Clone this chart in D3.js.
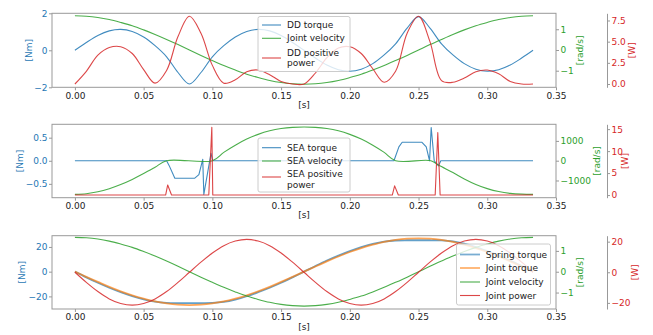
<!DOCTYPE html>
<html lang="en">
<head>
<meta charset="utf-8"/>
<script src="https://d3js.org/d3.v7.min.js"></script>
<title>DD / SEA joint traces</title>
<style>
  body { margin: 0; background: #fff; }
  svg text { font-family: "DejaVu Sans", sans-serif; font-size: 9px; }
</style>
</head>
<body>
<div id="joint_chart_div"><svg id="joint_chart"></svg></div>

<script>
const width = 653;
const height = 335;

// common time grid of the smooth traces [s]
const time = [0, 0.0083, 0.0167, 0.025, 0.0333, 0.0417, 0.05, 0.0583, 0.0667, 0.075,
  0.0833, 0.0917, 0.1, 0.1083, 0.1167, 0.125, 0.1333, 0.1417, 0.15, 0.1583,
  0.1667, 0.175, 0.1833, 0.1917, 0.2, 0.2083, 0.2167, 0.225, 0.2333, 0.2417,
  0.25, 0.2583, 0.2667, 0.275, 0.2833, 0.2917, 0.3, 0.3083, 0.3167, 0.325, 0.3333];

// panel 1 : direct drive
const ddTorque = [0, 0.42, 0.8, 1.05, 1.13, 1.02, 0.72, 0.25, -0.35, -1.2,
  -1.82, -1.2, -0.35, 0.25, 0.72, 1.02, 1.13, 1.05, 0.8, 0.42,
  0, -0.42, -0.8, -1.05, -1.13, -1.02, -0.72, -0.25, 0.35, 1.2,
  1.82, 1.2, 0.35, -0.25, -0.72, -1.02, -1.13, -1.05, -0.8, -0.42, 0];
const jointVelocity = [1.65, 1.63, 1.57, 1.47, 1.33, 1.17, 0.97, 0.75, 0.51, 0.26,
  0, -0.26, -0.51, -0.75, -0.97, -1.17, -1.33, -1.47, -1.57, -1.63,
  -1.65, -1.63, -1.57, -1.47, -1.33, -1.17, -0.97, -0.75, -0.51, -0.26,
  0, 0.26, 0.51, 0.75, 0.97, 1.17, 1.33, 1.47, 1.57, 1.63, 1.65];
const ddPower = [0, 1.5, 3.4, 4.3, 4.4, 3.6, 1.7, 0.1, 1.6, 5.6,
  8.0, 6.0, 2.2, 0.1, 0.5, 1.45, 1.65, 1.1, 0.3, 0,
  0, 1.3, 3.1, 4.25, 4.4, 3.6, 1.8, 0.2, 1.5, 6.0,
  8.0, 5.0, 0.4, 0.2, 0.7, 1.45, 1.65, 1.2, 0.3, 0, 0];

// panel 2 : series elastic actuator (own time stamps, spiky)
const seaTorqueT = [0, 0.0667, 0.0685, 0.0727, 0.087, 0.0902, 0.093, 0.0938, 0.099, 0.1003,
  0.2321, 0.2357, 0.2381, 0.2525, 0.2556, 0.258, 0.2592, 0.2614, 0.2645, 0.2662, 0.3333];
const seaTorque = [0, 0, -0.1, -0.38, -0.38, -0.3, 0.03, -0.73, 0.16, 0,
  0, 0.3, 0.4, 0.4, 0.3, 0, 0.72, 0, -0.11, 0, 0];
const seaVelocityT = [0, 0.0083, 0.0167, 0.025, 0.0333, 0.0417, 0.05, 0.0583, 0.0667, 0.1,
  0.1083, 0.1167, 0.125, 0.1333, 0.1417, 0.15, 0.1583, 0.1667, 0.175, 0.1833,
  0.1917, 0.2, 0.2083, 0.2167, 0.225, 0.2333, 0.259, 0.2645, 0.275, 0.2833,
  0.2917, 0.3, 0.3083, 0.3167, 0.325, 0.3333];
const seaVelocity = [-1700, -1667, -1571, -1413, -1202, -944, -651, -332, 0, 0,
  420, 780, 1090, 1330, 1510, 1625, 1685, 1700, 1685, 1625,
  1510, 1330, 1090, 780, 420, 0, 0, -220, -600, -920,
  -1200, -1410, -1560, -1650, -1690, -1700];
const seaPowerT = [0, 0.066, 0.0675, 0.0703, 0.0974, 0.0996, 0.1003,
  0.2309, 0.2326, 0.2353, 0.2621, 0.264, 0.2657, 0.3333];
const seaPower = [0, 0, 2.3, 0, 0, 15.4, 0,
  0, 2.1, 0, 0, 14.2, 0, 0];

// panel 3 : spring / joint
const springTorque = [0, -4.6, -9.0, -13.0, -16.6, -19.8, -22.4, -24.3, -25.2, -25.4,
  -25.4, -25.4, -25.3, -24.5, -22.6, -19.9, -16.6, -13.0, -9.0, -4.6,
  0, 4.6, 9.0, 13.0, 16.6, 19.8, 22.4, 24.3, 25.2, 25.4,
  25.4, 25.4, 25.3, 24.5, 22.6, 19.9, 16.6, 13.0, 9.0, 4.6, 0];
const jointTorque = [0, -4.2, -8.3, -12.3, -15.9, -19.1, -21.8, -24.1, -25.7, -26.7,
  -27, -26.7, -25.7, -24.1, -21.8, -19.1, -15.9, -12.3, -8.3, -4.2,
  0, 4.2, 8.3, 12.3, 15.9, 19.1, 21.8, 24.1, 25.7, 26.7,
  27, 26.7, 25.7, 24.1, 21.8, 19.1, 15.9, 12.3, 8.3, 4.2, 0];
const jointPower = [0, -6.6, -12.6, -17.4, -20.4, -21.5, -20.4, -17.4, -12.6, -6.6,
  0, 6.6, 12.6, 17.4, 20.4, 21.5, 20.4, 17.4, 12.6, 6.6,
  0, -6.6, -12.6, -17.4, -20.4, -21.5, -20.4, -17.4, -12.6, -6.6,
  0, 6.6, 12.6, 17.4, 20.4, 21.5, 20.4, 17.4, 12.6, 6.6, 0];

const xTicks = [0, 0.05, 0.1, 0.15, 0.2, 0.25, 0.3, 0.35];

const c = {blue: "#1f77b4", orange: "#ff7f0e", green: "#2ca02c", red: "#d62728"};

const svg = d3.select("#joint_chart")
  .attr("width", width)
  .attr("height", height);

const plotLeft = 52, plotRight = 556, powerSpine = 607;

const xScale = d3.scaleLinear()
  .domain([-0.01667, 0.35])
  .range([plotLeft, plotRight]);

const zip = (ts, vs) => ts.map((t, i) => ({t: t, v: vs[i]}));

const panels = [
  {
    top: 13.3, bottom: 87.3,
    left: {dom: [-2, 2], ticks: [-2, 0, 2], fmt: "d", labelX: 29},
    vel: {dom: [-1.80, 1.77], ticks: [-1, 0, 1], fmt: "d", labelX: 580},
    pow: {dom: [-0.39, 8.35], ticks: [0, 2.5, 5, 7.5], fmt: ".1f", labelX: 632},
    series: [
      {data: zip(time, ddTorque), axis: "left", color: c.blue, smooth: true},
      {data: zip(time, jointVelocity), axis: "vel", color: c.green, smooth: true},
      {data: zip(time, ddPower), axis: "pow", color: c.red, smooth: true}
    ],
    legend: {x: 258, y: 16.5, w: 92, h: 55, hx: [262, 281], tx: 287, rows: [
      {lines: ["DD torque"], y: [25], hy: 25, color: c.blue},
      {lines: ["Joint velocity"], y: [38.3], hy: 38.3, color: c.green},
      {lines: ["DD positive", "power"], y: [52.5, 63], hy: 58, color: c.red}
    ]}
  },
  {
    top: 124.3, bottom: 197.7,
    left: {dom: [-0.80, 0.79], ticks: [-0.5, 0, 0.5], fmt: ".1f", labelX: 20},
    vel: {dom: [-1869, 1838], ticks: [-1000, 0, 1000], fmt: "d", labelX: 597},
    pow: {dom: [-0.6, 16.1], ticks: [0, 5, 10, 15], fmt: "d", labelX: 625},
    series: [
      {data: zip(seaTorqueT, seaTorque), axis: "left", color: c.blue, smooth: false},
      {data: zip(seaVelocityT, seaVelocity), axis: "vel", color: c.green, smooth: true},
      {data: zip(seaPowerT, seaPower), axis: "pow", color: c.red, smooth: false}
    ],
    legend: {x: 258, y: 138, w: 92, h: 54, hx: [262, 281], tx: 287, rows: [
      {lines: ["SEA torque"], y: [147.7], hy: 147.7, color: c.blue},
      {lines: ["SEA velocity"], y: [161], hy: 161, color: c.green},
      {lines: ["SEA positive", "power"], y: [174.3, 185], hy: 177, color: c.red}
    ]}
  },
  {
    top: 235.7, bottom: 309,
    left: {dom: [-30.2, 29.1], ticks: [-20, 0, 20], fmt: "d", labelX: 22},
    vel: {dom: [-1.79, 1.73], ticks: [-1, 0, 1], fmt: "d", labelX: 580},
    pow: {dom: [-24, 23.9], ticks: [-20, 0, 20], fmt: "d", labelX: 635},
    series: [
      {data: zip(time, springTorque), axis: "left", color: c.blue, smooth: true, w: 1.8, op: 0.7},
      {data: zip(time, jointTorque), axis: "left", color: c.orange, smooth: true, w: 1.8, op: 0.7},
      {data: zip(time, jointVelocity), axis: "vel", color: c.green, smooth: true},
      {data: zip(time, jointPower), axis: "pow", color: c.red, smooth: true}
    ],
    legend: {x: 456.5, y: 244, w: 94, h: 61, hx: [460, 480], tx: 485.7, rows: [
      {lines: ["Spring torque"], y: [254.5], hy: 254.5, color: c.blue, w: 1.8, op: 0.6},
      {lines: ["Joint torque"], y: [268], hy: 268, color: c.orange, w: 1.8, op: 0.6},
      {lines: ["Joint velocity"], y: [282], hy: 282, color: c.green},
      {lines: ["Joint power"], y: [295.5], hy: 295.5, color: c.red}
    ]}
  }
];

const styleAxis = (g, color) => {
  g.selectAll(".domain").attr("stroke", "#999");
  g.selectAll(".tick line").attr("stroke", "#999");
  g.selectAll(".tick text").attr("fill", color).style("font-size", "9px")
    .style("font-family", "DejaVu Sans, sans-serif");
};

panels.forEach((p) => {
  const g = svg.append("g");
  const mid = (p.top + p.bottom) / 2;

  const y = {
    left: d3.scaleLinear().domain(p.left.dom).range([p.bottom, p.top]),
    vel: d3.scaleLinear().domain(p.vel.dom).range([p.bottom, p.top]),
    pow: d3.scaleLinear().domain(p.pow.dom).range([p.bottom, p.top])
  };

  // lines
  p.series.forEach((s) => {
    const line = d3.line()
      .x((d) => xScale(d.t))
      .y((d) => y[s.axis](d.v))
      .curve(s.smooth ? d3.curveCatmullRom.alpha(0.5) : d3.curveLinear);
    g.append("path")
      .datum(s.data)
      .attr("fill", "none")
      .attr("stroke", s.color)
      .attr("stroke-width", s.w || 1.1)
      .attr("stroke-opacity", s.op || 0.85)
      .attr("stroke-linejoin", "round")
      .attr("d", line);
  });

  // frame
  g.append("rect")
    .attr("x", plotLeft).attr("y", p.top)
    .attr("width", plotRight - plotLeft).attr("height", p.bottom - p.top)
    .attr("fill", "none").attr("stroke", "#999").attr("stroke-width", 1);

  // x axis
  g.append("g")
    .attr("transform", "translate(0," + p.bottom + ")")
    .call(d3.axisBottom(xScale).tickValues(xTicks).tickFormat(d3.format(".2f"))
      .tickSize(3).tickSizeOuter(0).tickPadding(2))
    .call((a) => { a.select(".domain").remove(); styleAxis(a, "#222"); });

  g.append("text")
    .attr("x", (plotLeft + plotRight) / 2).attr("y", p.bottom + 17.5)
    .attr("dy", "0.35em").attr("text-anchor", "middle").attr("fill", "#222")
    .text("[s]");

  // left torque axis
  g.append("g")
    .attr("transform", "translate(" + plotLeft + ",0)")
    .call(d3.axisLeft(y.left).tickValues(p.left.ticks).tickFormat(d3.format(p.left.fmt))
      .tickSize(3).tickSizeOuter(0).tickPadding(1.5))
    .call((a) => { a.select(".domain").remove(); styleAxis(a, c.blue); });

  g.append("text")
    .attr("transform", "translate(" + p.left.labelX + "," + mid + ") rotate(-90)")
    .attr("dy", "0.35em").attr("text-anchor", "middle").attr("fill", c.blue)
    .text("[Nm]");

  // right velocity axis
  g.append("g")
    .attr("transform", "translate(" + plotRight + ",0)")
    .call(d3.axisRight(y.vel).tickValues(p.vel.ticks).tickFormat(d3.format(p.vel.fmt))
      .tickSize(3).tickSizeOuter(0).tickPadding(1.5))
    .call((a) => { a.select(".domain").remove(); styleAxis(a, c.green); });

  g.append("text")
    .attr("transform", "translate(" + p.vel.labelX + "," + mid + ") rotate(-90)")
    .attr("dy", "0.35em").attr("text-anchor", "middle").attr("fill", c.green)
    .text("[rad/s]");

  // outer power axis
  g.append("g")
    .attr("transform", "translate(" + powerSpine + ",0)")
    .call(d3.axisRight(y.pow).tickValues(p.pow.ticks).tickFormat(d3.format(p.pow.fmt))
      .tickSize(3).tickSizeOuter(0).tickPadding(1.5))
    .call((a) => styleAxis(a, c.red));

  g.append("text")
    .attr("transform", "translate(" + p.pow.labelX + "," + mid + ") rotate(-90)")
    .attr("dy", "0.35em").attr("text-anchor", "middle").attr("fill", c.red)
    .text("[W]");

  // legend
  const L = p.legend;
  const lg = g.append("g");
  lg.append("rect")
    .attr("x", L.x).attr("y", L.y).attr("width", L.w).attr("height", L.h)
    .attr("rx", 2)
    .attr("fill", "#fff").attr("fill-opacity", 0.8)
    .attr("stroke", "#ccc").attr("stroke-width", 1);
  L.rows.forEach((r) => {
    lg.append("line")
      .attr("x1", L.hx[0]).attr("x2", L.hx[1])
      .attr("y1", r.hy).attr("y2", r.hy)
      .attr("stroke", r.color)
      .attr("stroke-width", r.w || 1.1)
      .attr("stroke-opacity", r.op || 0.85);
    r.lines.forEach((txt, i) => {
      lg.append("text")
        .attr("x", L.tx).attr("y", r.y[i]).attr("dy", "0.35em")
        .attr("fill", "#222")
        .text(txt);
    });
  });
});
</script>
</body>
</html>
